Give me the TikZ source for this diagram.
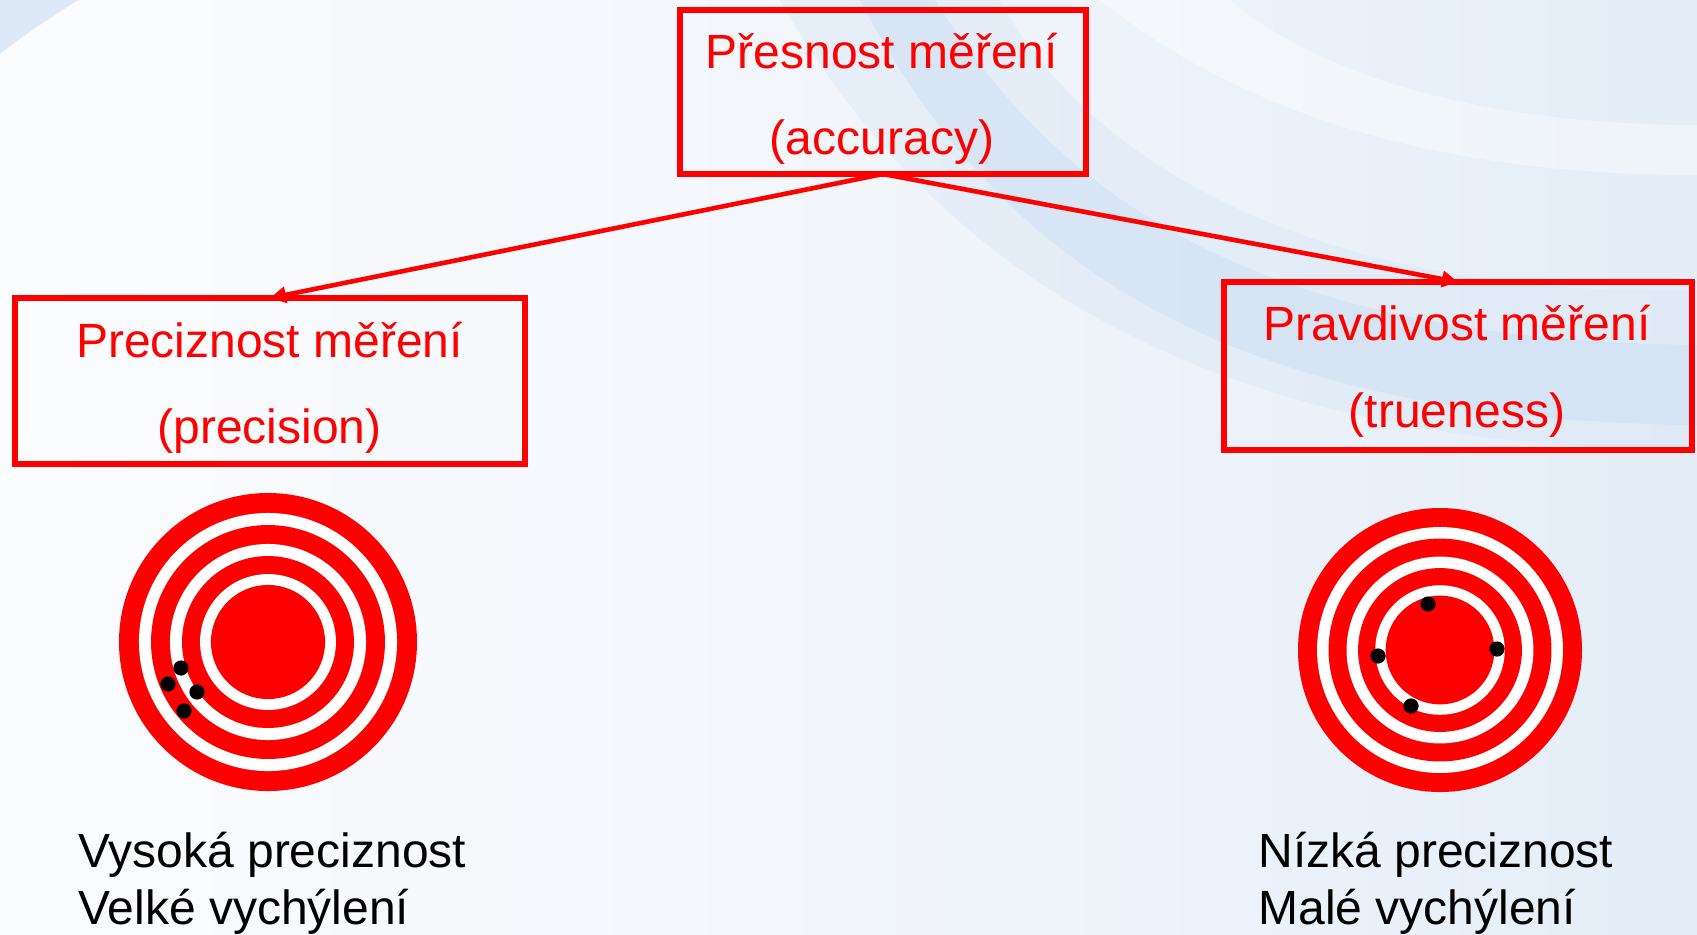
\documentclass[tikz,border=0pt]{standalone}
\usepackage{fontspec}
\setmainfont{Liberation Sans}
\usetikzlibrary{arrows.meta,shadings}

\definecolor{tred}{HTML}{FF0000}
\definecolor{bgleft}{HTML}{FBFCFE}
\definecolor{bgmid}{HTML}{F2F6FB}
\definecolor{bgright}{HTML}{E4EDF8}
\definecolor{swoosh}{HTML}{C8DCF2}
\definecolor{swooshlight}{HTML}{DDE9F6}

% concentric target: centre, outer radius (in pt)
\newcommand\drawtarget[3]{%
  \foreach \f/\c in {1/tred,0.866/white,0.785/tred,0.658/white,0.577/tred,0.456/white,0.383/tred}{
    \fill[\c] (#1,#2) circle[radius=\f*#3];
  }%
}

\begin{document}
\begin{tikzpicture}[x=0.5pt,y=-0.5pt,
  box/.style={draw=tred,line width=3pt,outer sep=0pt,inner sep=0pt},
  boxtext/.style={text=tred,font=\fontsize{24}{28}\selectfont,anchor=base,inner sep=0pt},
  caption/.style={text=black,font=\fontsize{24}{28}\selectfont,anchor=base west,inner sep=0pt},
  conn/.style={draw=tred,line width=2.3pt,-{Triangle[length=8pt,width=8pt]}},
  hit/.style={fill=black}]

% background
\useasboundingbox (0,0) rectangle (1697,934);
\shade[left color=bgleft,right color=bgright,middle color=bgmid] (0,0) rectangle (1697,934);

% soft swooshes in the upper corners
\fill[swooshlight,opacity=0.55]
  (780,0) .. controls (950,300) and (1250,450) .. (1697,450)
  -- (1697,290) .. controls (1300,300) and (1080,150) .. (1000,0) -- cycle;
\fill[swoosh,opacity=0.45]
  (860,0) .. controls (990,250) and (1210,420) .. (1697,425)
  -- (1697,345) .. controls (1260,340) and (1060,200) .. (935,0) -- cycle;
\fill[white,opacity=0.4]
  (1100,0) .. controls (1250,120) and (1450,175) .. (1697,175)
  -- (1697,125) .. controls (1450,125) and (1300,60) .. (1230,0) -- cycle;
\fill[swooshlight]
  (0,0) -- (78,0) .. controls (50,18) and (22,36) .. (0,54) -- cycle;

% boxes
\node[box,minimum width=203pt,minimum height=82pt] (acc) at (883,92) {};
\node[box,minimum width=255pt,minimum height=83pt] (prec) at (270,381) {};
\node[box,minimum width=234pt,minimum height=84pt] (true) at (1458,366) {};

\node[boxtext] (acc1) at (882,68) {Přesnost měření};
\node[boxtext] (acc2) at (882,154) {(accuracy)};
\node[boxtext] (prec1) at (269.5,357) {Preciznost měření};
\node[boxtext] (prec2) at (269.5,443) {(precision)};
\node[boxtext] (true1) at (1457,340) {Pravdivost měření};
\node[boxtext] (true2) at (1457,427) {(trueness)};

% connectors
\draw[conn] (acc.south) -- (prec.north);
\draw[conn] (acc.south) -- (true.north);

% targets
\drawtarget{268}{642}{74.5pt}
\foreach \p in {(181,668),(168,684),(197,692),(184,711)}
  \fill[hit] \p circle[radius=3.8pt];

\drawtarget{1440}{650}{71pt}
\foreach \p in {(1428,604),(1378,656),(1497,649),(1411,706)}
  \fill[hit] \p circle[radius=3.8pt];

% captions
\node[caption] (capL1) at (78,867) {Vysoká preciznost};
\node[caption] (capL2) at (78,924) {Velké vychýlení};
\node[caption] (capR1) at (1258,867) {Nízká preciznost};
\node[caption] (capR2) at (1258,924) {Malé vychýlení};
\end{tikzpicture}
\end{document}
